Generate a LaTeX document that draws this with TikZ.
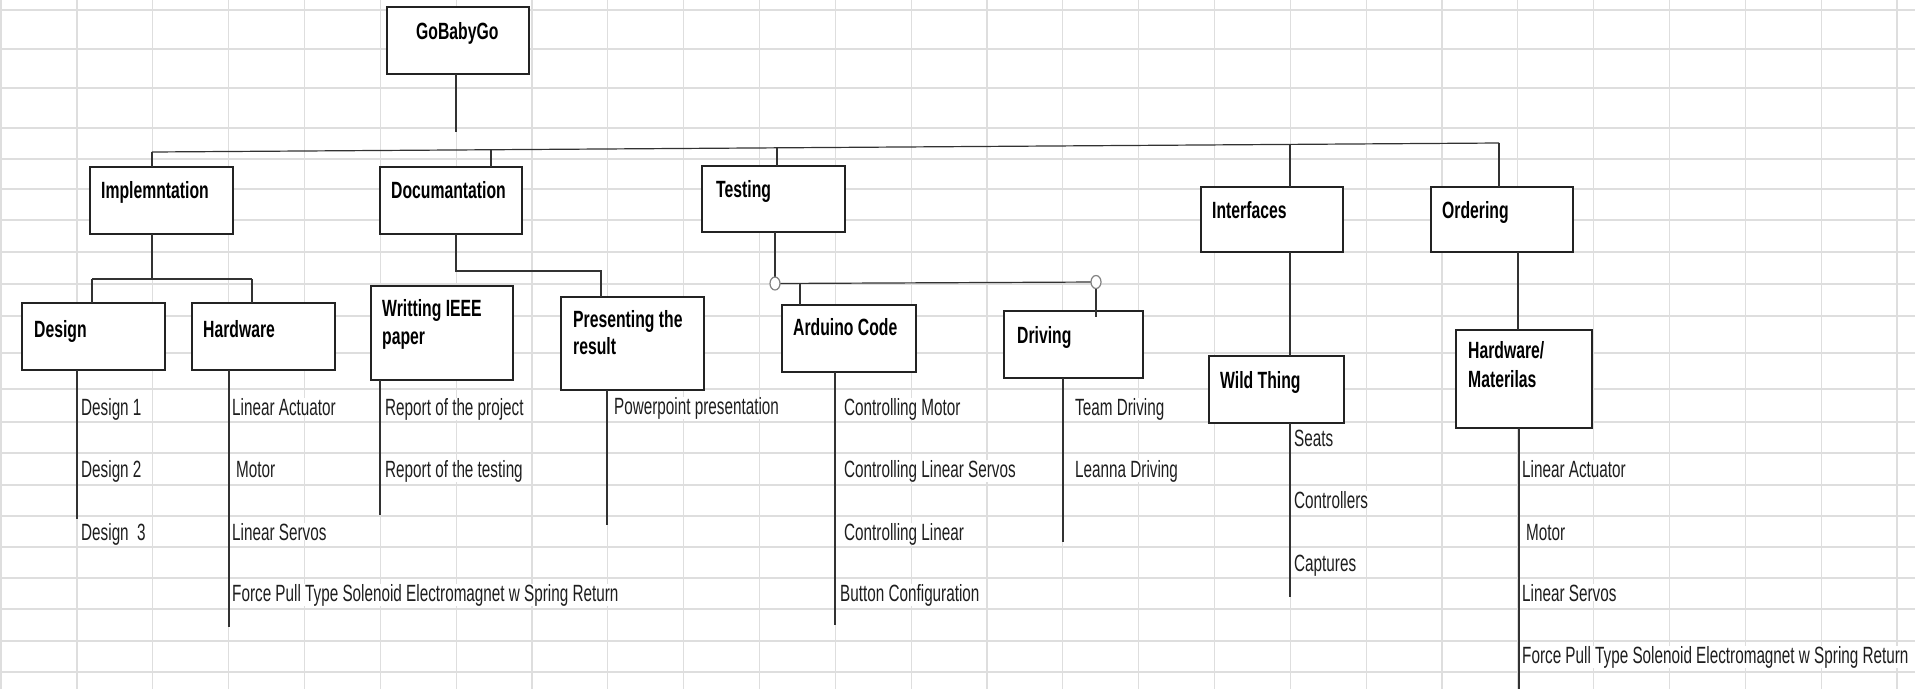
\documentclass[tikz,border=0pt]{standalone}
\usepackage{fontspec}
\setmainfont{Liberation Sans}[FakeStretch=0.65, BoldFeatures={FakeStretch=0.67}]
\usetikzlibrary{shapes.geometric}
\definecolor{gridc}{RGB}{222,222,222}
\definecolor{linec}{RGB}{50,50,50}
\definecolor{boxc}{RGB}{35,35,35}
\definecolor{itemc}{RGB}{30,30,30}
\definecolor{jnc}{RGB}{130,130,130}
\tikzset{
 gridline/.style={draw=gridc, line width=1.2pt},
 box/.style={draw=boxc, line width=1.8pt, fill=white, rectangle, inner sep=0pt, outer sep=0pt, anchor=north west},
 ttl/.style={anchor=base west, inner sep=0pt, font=\fontsize{23.5}{28}\selectfont\bfseries, text=black},
 item/.style={anchor=base west, inner xsep=1pt, inner ysep=0pt, fill=white, font=\fontsize{23.5}{28}\selectfont, text=itemc},
 conn/.style={draw=linec, line width=1.2pt},
 jn/.style={ellipse, draw=jnc, fill=white, line width=1.2pt, minimum width=10pt, minimum height=13pt, inner sep=0pt},
}
\begin{document}
\begin{tikzpicture}[x=1pt,y=-1pt]
\useasboundingbox (0,0) rectangle (1915,689);
% spreadsheet grid
\begin{scope}
\clip (0,0) rectangle (1915,689);
\draw[gridline] (1,0) -- (1,689);
\foreach \k in {0,...,24} \draw[gridline] ({77+75.83*\k},0) -- ({77+75.83*\k},689);
\foreach \yy in {10,49,88,128,159,189,220,252,284,316,353,389,422,453,485,516,547,578,609,641,672}
  \draw[gridline] (0,\yy) -- (1915,\yy);
\end{scope}

% item texts
\node[item] (i-d1) at (80,415) {Design 1};
\node[item] (i-d2) at (80,477) {Design 2};
\node[item] (i-d3) at (80,540) {Design\ \ 3};
\node[item] (i-h1) at (231,415) {Linear Actuator};
\node[item] (i-h2) at (235,477) {Motor};
\node[item] (i-h3) at (231,540) {Linear Servos};
\node[item] (i-h4) at (231,601) {Force Pull Type Solenoid Electromagnet w Spring Return};
\node[item] (i-r1) at (384,415) {Report of the project};
\node[item] (i-r2) at (384,477) {Report of the testing};
\node[item] (i-p1) at (613,414) {Powerpoint presentation};
\node[item] (i-a1) at (843,415) {Controlling Motor};
\node[item] (i-a2) at (843,477) {Controlling Linear Servos};
\node[item] (i-a3) at (843,540) {Controlling Linear};
\node[item] (i-a4) at (839,601) {Button Configuration};
\node[item] (i-v1) at (1074,415) {Team Driving};
\node[item] (i-v2) at (1074,477) {Leanna Driving};
\node[item] (i-w1) at (1293,446) {Seats};
\node[item] (i-w2) at (1293,508) {Controllers};
\node[item] (i-w3) at (1293,571) {Captures};
\node[item] (i-o1) at (1521,477) {Linear Actuator};
\node[item] (i-o2) at (1525,540) {Motor};
\node[item] (i-o3) at (1521,601) {Linear Servos};
\node[item] (i-o4) at (1521,663) {Force Pull Type Solenoid Electromagnet w Spring Return};

% boxes
\node[box, minimum width=142, minimum height=67] (root) at (387,7) {};
\node[box, minimum width=143, minimum height=67] (impl) at (90,167) {};
\node[box, minimum width=142, minimum height=67] (doc) at (380,167) {};
\node[box, minimum width=143, minimum height=66] (test) at (702,166) {};
\node[box, minimum width=142, minimum height=65] (intf) at (1201,187) {};
\node[box, minimum width=142, minimum height=65] (ord) at (1431,187) {};
\node[box, minimum width=143, minimum height=67] (design) at (22,303) {};
\node[box, minimum width=143, minimum height=67] (hw) at (192,303) {};
\node[box, minimum width=142, minimum height=94] (ieee) at (371,286) {};
\node[box, minimum width=143, minimum height=93] (pres) at (561,297) {};
\node[box, minimum width=134, minimum height=67] (ard) at (782,305) {};
\node[box, minimum width=139, minimum height=67] (drv) at (1004,311) {};
\node[box, minimum width=135, minimum height=67] (wild) at (1209,356) {};
\node[box, minimum width=136, minimum height=98] (hwm) at (1456,330) {};

% box titles
\node[ttl] (t-root) at (416,39) {GoBabyGo};
\node[ttl] (t-impl) at (101,198) {Implemntation};
\node[ttl] (t-doc) at (391,198) {Documantation};
\node[ttl] (t-test) at (716,197) {Testing};
\node[ttl] (t-intf) at (1212,218) {Interfaces};
\node[ttl] (t-ord) at (1442,218) {Ordering};
\node[ttl] (t-design) at (34,337) {Design};
\node[ttl] (t-hw) at (203,337) {Hardware};
\node[ttl] (t-ieee1) at (382,316) {Writting IEEE};
\node[ttl] (t-ieee2) at (382,344) {paper};
\node[ttl] (t-pres1) at (573,327) {Presenting the};
\node[ttl] (t-pres2) at (573,354) {result};
\node[ttl] (t-ard) at (793,335) {Arduino Code};
\node[ttl] (t-drv) at (1017,343) {Driving};
\node[ttl] (t-wild) at (1220,388) {Wild Thing};
\node[ttl] (t-hwm1) at (1468,358) {Hardware/};
\node[ttl] (t-hwm2) at (1468,387) {Materilas};

% top level connectors
\coordinate (rs) at (456,132);
\draw[conn] (rs |- root.south) -- (rs);
\coordinate (d1) at (152,152);
\coordinate (d2) at (491,149.7);
\coordinate (d3) at (777,147.8);
\coordinate (d4) at (1290,144.4);
\coordinate (d5) at (1499,143);
\draw[conn] (d1) -- (d5);
\draw[conn] (d1) -- (d1 |- impl.north);
\draw[conn] (d2) -- (d2 |- doc.north);
\draw[conn] (d3) -- (d3 |- test.north);
\draw[conn] (d4) -- (d4 |- intf.north);
\draw[conn] (d5) -- (d5 |- ord.north);

% Implementation subtree
\coordinate (is) at (152,279);
\coordinate (isL) at (92,279);
\coordinate (isR) at (252,279);
\draw[conn] (is |- impl.south) -- (is);
\draw[conn] (isL) -- (isR);
\draw[conn] (isL) -- (isL |- design.north);
\draw[conn] (isR) -- (isR |- hw.north);
\coordinate (ds) at (77,519);
\draw[conn] (ds |- design.south) -- (ds);
\coordinate (hs) at (229,627);
\draw[conn] (hs |- hw.south) -- (hs);

% Documentation subtree
\coordinate (dc1) at (456,271);
\coordinate (dc2) at (601,271);
\draw[conn] (dc1 |- doc.south) -- (dc1) -- (dc2) -- (dc2 |- pres.north);
\coordinate (ies) at (380,515);
\draw[conn] (ies |- ieee.south) -- (ies);
\coordinate (ps) at (607,525);
\draw[conn] (ps |- pres.south) -- (ps);

% Testing subtree
\coordinate (jl) at (775,283.5);
\coordinate (jr) at (1096,282);
\draw[conn] (jl) -- (jr);
\coordinate (ad) at (800,283.4);
\draw[conn] (ad) -- (ad |- ard.north);
\coordinate (dd) at (1096,317);
\draw[conn] (jr) -- (dd);
\draw[conn] (jl |- test.south) -- (jl);
\node[jn] (j1) at (jl) {};
\node[jn] (j2) at (jr) {};
\coordinate (as) at (835,625);
\draw[conn] (as |- ard.south) -- (as);
\coordinate (dvs) at (1063,542);
\draw[conn] (dvs |- drv.south) -- (dvs);

% Interfaces subtree
\coordinate (ifs) at (1290,300);
\draw[conn] (ifs |- intf.south) -- (ifs |- wild.north);
\coordinate (ws) at (1290,597);
\draw[conn] (ws |- wild.south) -- (ws);

% Ordering subtree
\coordinate (os) at (1518,300);
\draw[conn] (os |- ord.south) -- (os |- hwm.north);
\coordinate (hms) at (1519,689);
\draw[conn] (hms |- hwm.south) -- (hms);
\end{tikzpicture}
\end{document}
